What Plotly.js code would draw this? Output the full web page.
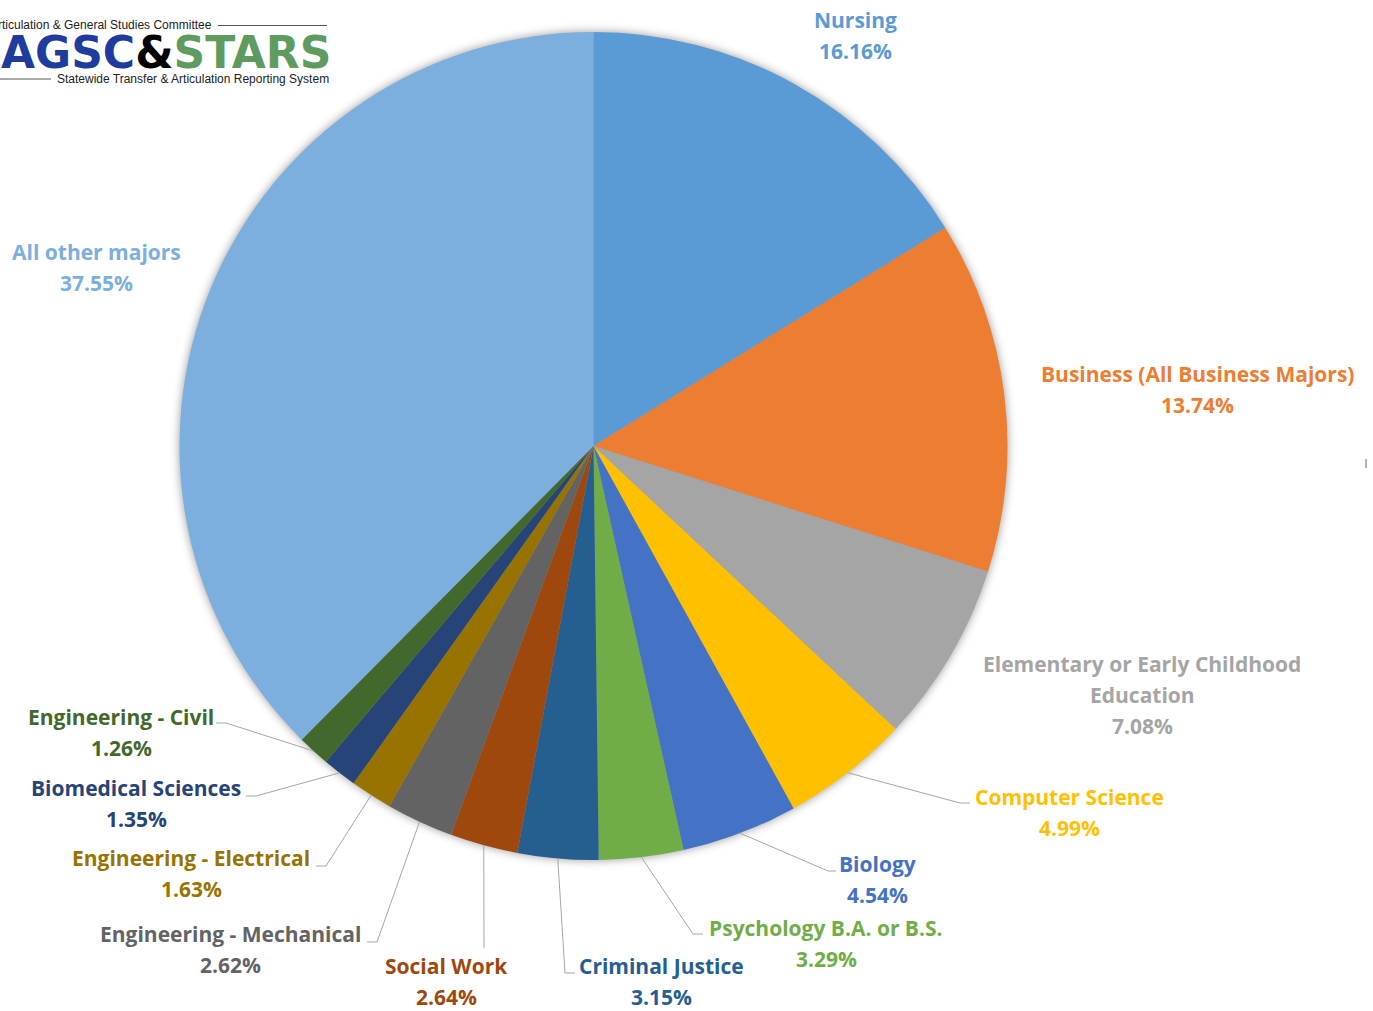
<!DOCTYPE html>
<html><head><meta charset="utf-8">
<script src="https://cdn.plot.ly/plotly-3.0.1.min.js"></script>
<style>html,body{margin:0;padding:0;background:#fff;overflow:hidden;} #chart{width:1373px;height:1011px;}</style>
</head><body><div id="chart"></div>
<script>
// ---------- data ----------
const majors = ["Nursing", "Business (All Business Majors)", "Elementary or Early Childhood Education",
  "Computer Science", "Biology", "Psychology B.A. or B.S.", "Criminal Justice", "Social Work",
  "Engineering - Mechanical", "Engineering - Electrical", "Biomedical Sciences", "Engineering - Civil",
  "All other majors"];
const shares = [16.16, 13.74, 7.08, 4.99, 4.54, 3.29, 3.15, 2.64, 2.62, 1.63, 1.35, 1.26, 37.55];
const sliceColors = ["#5B9BD5", "#ED7D31", "#A5A5A5", "#FFC000", "#4472C4", "#70AD47", "#255E91",
  "#9E480E", "#636363", "#997300", "#264478", "#43682B", "#7CAFDD"];
const labelWrap = [["Nursing"], ["Business (All Business Majors)"], ["Elementary or Early Childhood", "Education"],
  ["Computer Science"], ["Biology"], ["Psychology B.A. or B.S."], ["Criminal Justice"], ["Social Work"],
  ["Engineering - Mechanical"], ["Engineering - Electrical"], ["Biomedical Sciences"], ["Engineering - Civil"],
  ["All other majors"]];

// ---------- layout constants (pixels) ----------
const W = 1373, H = 1011;
const CX = 593.5, CY = 446, R = 414;
const LINE_GAP = 31;
const LABEL_FONT = {family: "'Open Sans', 'Noto Sans', sans-serif", size: 21, weight: 700};
// label block: centre x, first line centre y, leader elbow / end (or null)
const labelPos = [
  {x: 855, y: 20, lead: null},
  {x: 1197, y: 374, lead: null},
  {x: 1142, y: 664, lead: null},
  {x: 1069, y: 797, lead: [[960, 803], [970, 803]]},
  {x: 877, y: 864, lead: [[828, 871], [836, 871]]},
  {x: 826, y: 928, lead: [[693, 934], [703, 934]]},
  {x: 661, y: 966, lead: [[565, 973], [575, 973]]},
  {x: 446, y: 966, lead: [[484, 948]]},
  {x: 230, y: 934, lead: [[377, 942], [367, 942]]},
  {x: 191, y: 858, lead: [[326, 866], [316, 866]]},
  {x: 136, y: 788, lead: [[256, 796], [246, 796]]},
  {x: 121, y: 717, lead: [[226, 723], [216, 723]]},
  {x: 96, y: 252, lead: null}
];

const px = v => v / W;
const py = v => 1 - v / H;

const annotations = [];
const shapes = [];
const total = shares.reduce((a, b) => a + b, 0);
let cum = 0;
shares.forEach((v, i) => {
  const mid = (cum + v / 2) / total * 2 * Math.PI;
  cum += v;
  const pos = labelPos[i];
  const lines = labelWrap[i].concat([v.toFixed(2) + "%"]);
  lines.forEach((t, k) => {
    annotations.push({
      xref: "paper", yref: "paper", x: px(pos.x), y: py(pos.y + k * LINE_GAP),
      xanchor: "center", yanchor: "middle", showarrow: false,
      text: t,
      font: Object.assign({color: sliceColors[i]}, LABEL_FONT)
    });
  });
  if (pos.lead) {
    const ex = CX + R * Math.sin(mid), ey = CY - R * Math.cos(mid);
    let d = "M" + px(ex) + "," + py(ey);
    pos.lead.forEach(p => { d += " L" + px(p[0]) + "," + py(p[1]); });
    shapes.push({type: "path", xref: "paper", yref: "paper", path: d,
      line: {color: "#A6A6A6", width: 1}});
  }
});

// logo
annotations.push({xref: "paper", yref: "paper", x: px(214), y: py(25), xanchor: "right", yanchor: "middle",
  showarrow: false, text: "Articulation & General Studies Committee",
  font: {family: "Liberation Sans, Arial, sans-serif", size: 12, color: "#222"}});
annotations.push({xref: "paper", yref: "paper", x: px(-1), y: py(53), xanchor: "left", yanchor: "middle",
  showarrow: false,
  text: "<span style='color:#1E3C9E'>AGSC</span><span style='color:#000'>&amp;</span><span style='color:#5E9B5E'>STARS</span>",
  font: {family: "DejaVu Sans, sans-serif", size: 44, weight: 700, color: "#1E3C9E"}});
annotations.push({xref: "paper", yref: "paper", x: px(55), y: py(79), xanchor: "left", yanchor: "middle",
  showarrow: false, text: "Statewide Transfer & Articulation Reporting System",
  font: {family: "Liberation Sans, Arial, sans-serif", size: 12, color: "#222"}});
shapes.push({type: "line", xref: "paper", yref: "paper", x0: px(218), x1: px(327), y0: py(25.5), y1: py(25.5),
  line: {color: "#555", width: 1}});
shapes.push({type: "line", xref: "paper", yref: "paper", x0: px(0), x1: px(51), y0: py(79), y1: py(79),
  line: {color: "#555", width: 1}});
shapes.push({type: "line", xref: "paper", yref: "paper", x0: px(1366), x1: px(1366), y0: py(459), y1: py(468),
  line: {color: "#999", width: 1.5}});

const trace = {
  type: "pie",
  labels: majors,
  values: shares,
  sort: false,
  direction: "clockwise",
  rotation: 0,
  textinfo: "none",
  hoverinfo: "label+percent",
  marker: {colors: sliceColors, line: {width: 0}},
  domain: {x: [(CX - R) / W, (CX + R) / W], y: [1 - (CY + R) / H, 1 - (CY - R) / H]},
  showlegend: false
};

const layout = {
  width: W, height: H,
  margin: {l: 0, r: 0, t: 0, b: 0},
  paper_bgcolor: "#ffffff",
  plot_bgcolor: "#ffffff",
  showlegend: false,
  annotations: annotations,
  shapes: shapes
};

Plotly.newPlot("chart", [trace], layout, {displayModeBar: false, staticPlot: true}).then(() => {
  const pl = document.querySelector(".pielayer");
  if (pl) pl.style.filter = "drop-shadow(0px 0px 5px rgba(0,0,0,0.4))";
});
</script>
</body></html>
